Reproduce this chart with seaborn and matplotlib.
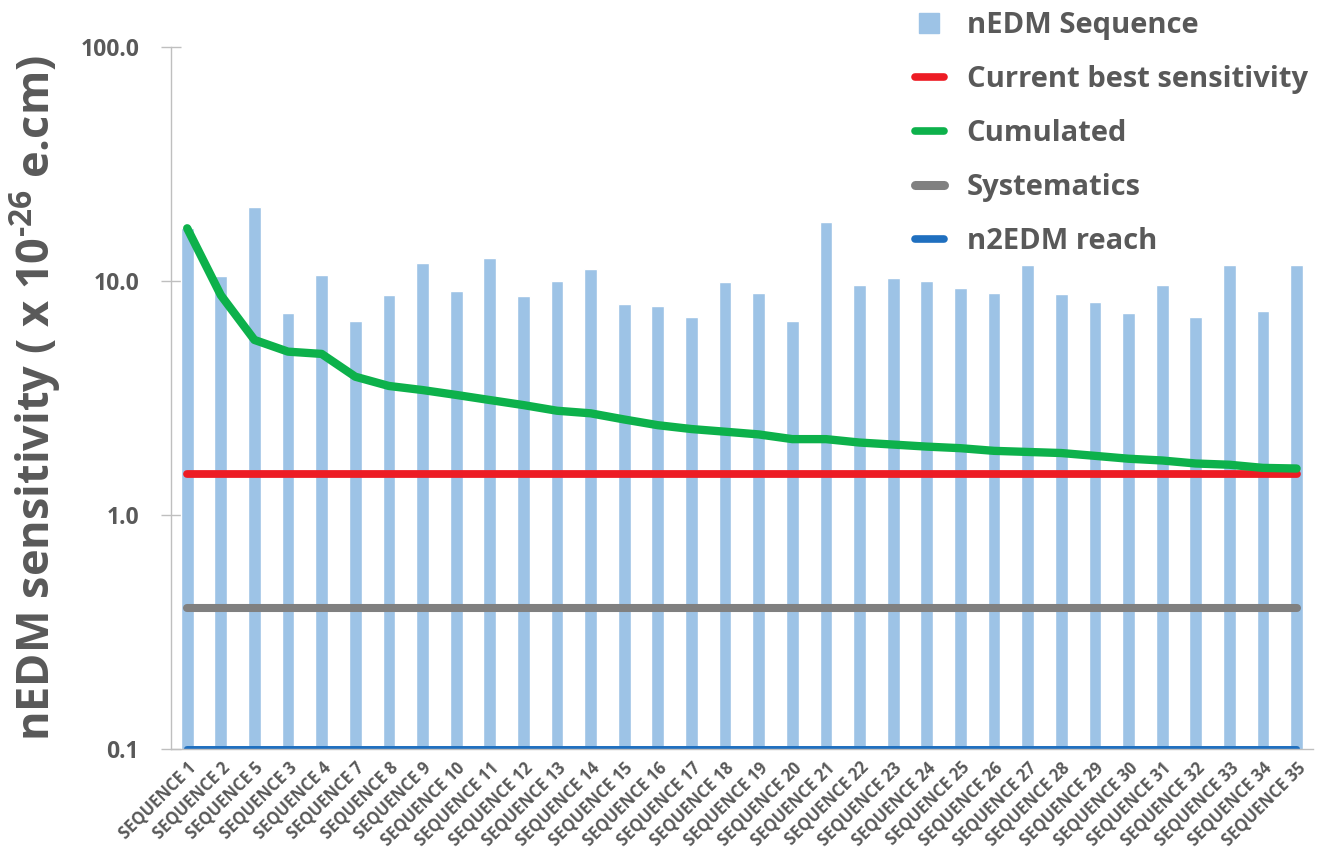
import numpy as np
import pandas as pd
import seaborn as sns
import matplotlib.pyplot as plt
from matplotlib.lines import Line2D

# data
sequences = ["SEQUENCE 1", "SEQUENCE 2", "SEQUENCE 5", "SEQUENCE 3", "SEQUENCE 4",
             "SEQUENCE 7", "SEQUENCE 8", "SEQUENCE 9", "SEQUENCE 10", "SEQUENCE 11",
             "SEQUENCE 12", "SEQUENCE 13", "SEQUENCE 14", "SEQUENCE 15", "SEQUENCE 16",
             "SEQUENCE 17", "SEQUENCE 18", "SEQUENCE 19", "SEQUENCE 20", "SEQUENCE 21",
             "SEQUENCE 22", "SEQUENCE 23", "SEQUENCE 24", "SEQUENCE 25", "SEQUENCE 26",
             "SEQUENCE 27", "SEQUENCE 28", "SEQUENCE 29", "SEQUENCE 30", "SEQUENCE 31",
             "SEQUENCE 32", "SEQUENCE 33", "SEQUENCE 34", "SEQUENCE 35"]
sequence_sens = [16.8, 10.5, 20.7, 7.3, 10.6, 6.75, 8.7, 11.9, 9.07, 12.5,
                 8.6, 10.0, 11.2, 7.95, 7.84, 7.02, 9.9, 8.86, 6.73, 17.9,
                 9.6, 10.3, 10.0, 9.36, 8.89, 11.7, 8.77, 8.16, 7.3, 9.6,
                 7.02, 11.7, 7.42, 11.7]
cumulated = [16.8, 8.7, 5.6, 4.99, 4.88, 3.9, 3.56, 3.42, 3.26, 3.1,
             2.95, 2.79, 2.72, 2.56, 2.42, 2.33, 2.27, 2.21, 2.11, 2.11,
             2.04, 2.0, 1.96, 1.93, 1.88, 1.86, 1.84, 1.79, 1.74, 1.71,
             1.66, 1.64, 1.59, 1.58]
current_best = 1.5
systematics = 0.4
n2edm_reach = 0.1

tabela = pd.DataFrame({"seq": sequences, "sens": sequence_sens, "cum": cumulated})
tabela["pos"] = np.arange(len(tabela))
tabela["best"] = current_best
tabela["syst"] = systematics
tabela["n2edm"] = n2edm_reach

sns.set_style("white")
plt.rcParams["font.family"] = ["Open Sans", "DejaVu Sans"]
plt.rcParams["font.weight"] = "bold"
plt.rcParams["mathtext.fontset"] = "custom"
plt.rcParams["mathtext.rm"] = "Open Sans:bold"
plt.rcParams["mathtext.bf"] = "Open Sans:bold"
plt.rcParams["mathtext.default"] = "rm"

txt = "#595959"
c_bar = "#9DC3E6"
c_red = "#ED1C24"
c_green = "#0DB14B"
c_gray = "#808080"
c_blue = "#1F6FBF"

fig = plt.figure(figsize=(13.26, 8.47), dpi=100)
ax = fig.add_axes([0.129, 0.1157, 0.861, 0.8288])

sns.barplot(data=tabela, x="seq", y="sens", color=c_bar, width=0.38,
            saturation=1, ax=ax)
ax.set_yscale("log")

# horizontal reference series
sns.lineplot(data=tabela, x="pos", y="syst", color=c_gray, lw=5.8, sort=False,
             solid_capstyle="round", ax=ax)
sns.lineplot(data=tabela, x="pos", y="n2edm", color=c_blue, lw=4.3, sort=False,
             solid_capstyle="round", ax=ax)
sns.lineplot(data=tabela, x="pos", y="best", color=c_red, lw=5.6, sort=False,
             solid_capstyle="round", ax=ax)
sns.lineplot(data=tabela, x="pos", y="cum", color=c_green, lw=6, sort=False,
             solid_capstyle="round", ax=ax)

ax.set_xlim(-0.48, len(sequences) - 0.52)
ax.set_ylim(0.1, 100)
ax.set_yticks([0.1, 1, 10, 100])
ax.set_yticklabels(["0.1", "1.0", "10.0", "100.0"])
ax.minorticks_off()
ax.tick_params(axis="y", which="major", direction="inout", length=14, width=1,
               color="#BFBFBF", labelsize=16.5, labelcolor=txt, pad=16, left=True)
ax.tick_params(axis="x", length=0, labelsize=12, labelcolor=txt, pad=7)
for lab in ax.get_xticklabels():
    lab.set_rotation(45)
    lab.set_ha("right")
    lab.set_rotation_mode("anchor")
    lab.set_fontweight("bold")
for lab in ax.get_yticklabels():
    lab.set_fontweight("bold")

for s in ["top", "right"]:
    ax.spines[s].set_visible(False)
for s in ["left", "bottom"]:
    ax.spines[s].set_color("#BFBFBF")
    ax.spines[s].set_linewidth(1)

ax.set_xlabel("")
ax.set_ylabel(r"nEDM sensitivity ( x 10$^{\text{-26}}$ e.cm)", fontsize=32.5,
              fontweight="bold", color=txt)
ax.yaxis.set_label_coords(-0.0946, 0.5)

handles = [
    Line2D([], [], ls="none", marker="s", ms=15, color=c_bar),
    Line2D([], [], color=c_red, lw=5.5, solid_capstyle="round"),
    Line2D([], [], color=c_green, lw=5.5, solid_capstyle="round"),
    Line2D([], [], color=c_gray, lw=6.5, solid_capstyle="round"),
    Line2D([], [], color=c_blue, lw=5.5, solid_capstyle="round"),
]
labels = ["nEDM Sequence", "Current best sensitivity", "Cumulated",
          "Systematics", "n2EDM reach"]
leg = fig.legend(handles, labels, loc="upper left", bbox_to_anchor=(0.670, 1.018),
                 frameon=False, fontsize=21, handlelength=1.0, handletextpad=0.78,
                 labelspacing=0.86)
for t in leg.get_texts():
    t.set_color(txt)
    t.set_fontweight("bold")

plt.savefig("out.png", dpi=100)
